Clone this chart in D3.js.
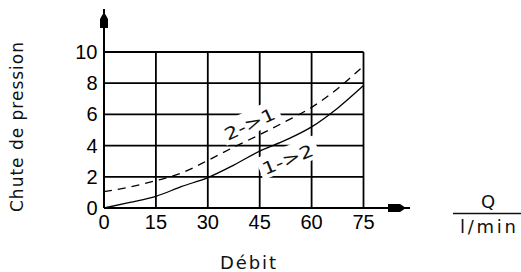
<!DOCTYPE html>
<html><head><meta charset="utf-8">
<script src="https://cdn.jsdelivr.net/npm/d3@7"></script>
<style>html,body{margin:0;padding:0;background:#fff;}svg{display:block;}</style>
</head><body>
<svg id="c" width="521" height="272"></svg>
<script>
const xTicks = [0, 15, 30, 45, 60, 75];
const yTicks = [0, 2, 4, 6, 8, 10];
const flowQ  = [0, 7.5, 15, 22.5, 30, 37.5, 45, 52.5, 60, 67.5, 75];
const drop12 = [0, 0.36, 0.75, 1.38, 1.95, 2.75, 3.65, 4.35, 5.2, 6.4, 7.85];
const drop21 = [1.05, 1.35, 1.75, 2.25, 3.05, 3.9, 4.7, 5.55, 6.45, 7.65, 9.1];
const yTitle = "Chute de pression";
const xTitle = "Débit";
const unitTop = "Q";
const unitBottom = "l/min";
const lab21 = "2->1";
const lab12 = "1->2";

const svg = d3.select("#c");
const x = d3.scaleLinear().domain([0, 75]).range([104, 363.5]);
const y = d3.scaleLinear().domain([0, 10]).range([208, 52]);
const tickFont = "'Liberation Sans', Arial, sans-serif";
const labFont = "'DejaVu Sans', Verdana, sans-serif";

// grid
const g = svg.append("g");
g.selectAll("line.h").data(yTicks.filter(d => d > 0)).join("line")
  .attr("x1", x(0)).attr("x2", x(75)).attr("y1", d => y(d)).attr("y2", d => y(d))
  .attr("stroke", "#000").attr("stroke-width", 1.8);
g.selectAll("line.v").data(xTicks.filter(d => d > 0)).join("line")
  .attr("y1", y(0)).attr("y2", y(10)).attr("x1", d => x(d)).attr("x2", d => x(d))
  .attr("stroke", "#000").attr("stroke-width", 1.8);

// white patches behind curve labels
function patch(px, py, ang, w) {
  svg.append("rect").attr("x", -3).attr("y", -19).attr("width", w + 6).attr("height", 23)
    .attr("fill", "#fff")
    .attr("transform", `translate(${px},${py}) rotate(${ang})`);
}
const p21 = [x(35.8), y(4.3), -25];
const p12 = [x(46.5), y(2.1), -22];
patch(p21[0], p21[1], p21[2], 56);
patch(p12[0], p12[1], p12[2], 56);

// axes
svg.append("line").attr("x1", x(0)).attr("x2", 410).attr("y1", y(0)).attr("y2", y(0))
  .attr("stroke", "#000").attr("stroke-width", 2);
svg.append("line").attr("x1", x(0)).attr("x2", x(0)).attr("y1", y(0)).attr("y2", 9)
  .attr("stroke", "#000").attr("stroke-width", 2);
// arrow heads
svg.append("path").attr("d", `M${x(0)},12 L${x(0)+4},19 L${x(0)+4},28 L${x(0)-4},28 L${x(0)-4},19 Z`).attr("fill", "#000");
svg.append("path").attr("d", `M388,${y(0)-4} L400,${y(0)-4} L406,${y(0)} L400,${y(0)+4} L388,${y(0)+4} Z`).attr("fill", "#000");

// curves
const line = d3.line().x(d => x(d[0])).y(d => y(d[1])).curve(d3.curveMonotoneX);
svg.append("path").datum(flowQ.map((q, i) => [q, drop12[i]])).attr("d", line)
  .attr("fill", "none").attr("stroke", "#000").attr("stroke-width", 1.3);
svg.append("path").datum(flowQ.map((q, i) => [q, drop21[i]])).attr("d", line)
  .attr("fill", "none").attr("stroke", "#000").attr("stroke-width", 1.3)
  .attr("stroke-dasharray", "8,6");

// curve labels
function clabel(p, t) {
  svg.append("text").attr("transform", `translate(${p[0]},${p[1]}) rotate(${p[2]})`)
    .attr("font-family", labFont).attr("font-size", 17).attr("fill", "#111")
    .attr("textLength", 54).attr("lengthAdjust", "spacingAndGlyphs").text(t);
}
clabel(p21, lab21);
clabel(p12, lab12);

// tick labels
svg.append("g").selectAll("text").data(xTicks).join("text")
  .attr("x", d => x(d)).attr("y", 229).attr("text-anchor", "middle")
  .attr("font-family", tickFont).attr("font-size", 20).attr("fill", "#000").text(d => d);
svg.append("g").selectAll("text").data(yTicks).join("text")
  .attr("x", 97.5).attr("y", d => y(d) + 7).attr("text-anchor", "end")
  .attr("font-family", tickFont).attr("font-size", 20).attr("fill", "#000").text(d => d);

// titles
svg.append("text").attr("transform", "translate(23,127) rotate(-90)").attr("text-anchor", "middle")
  .attr("font-family", labFont).attr("font-size", 17).attr("fill", "#111")
  .attr("textLength", 170).attr("lengthAdjust", "spacing").text(yTitle);
svg.append("text").attr("x", 248).attr("y", 268.5).attr("text-anchor", "middle")
  .attr("font-family", labFont).attr("font-size", 18).attr("fill", "#111")
  .attr("textLength", 56).attr("lengthAdjust", "spacing").text(xTitle);
svg.append("text").attr("x", 488).attr("y", 208).attr("text-anchor", "middle")
  .attr("font-family", labFont).attr("font-size", 18).attr("fill", "#111").text(unitTop);
svg.append("line").attr("x1", 453).attr("x2", 521).attr("y1", 213.5).attr("y2", 213.5)
  .attr("stroke", "#111").attr("stroke-width", 1.5);
svg.append("text").attr("x", 488).attr("y", 233).attr("text-anchor", "middle")
  .attr("font-family", labFont).attr("font-size", 18).attr("fill", "#111")
  .attr("textLength", 56).attr("lengthAdjust", "spacing").text(unitBottom);
</script>
</body></html>
